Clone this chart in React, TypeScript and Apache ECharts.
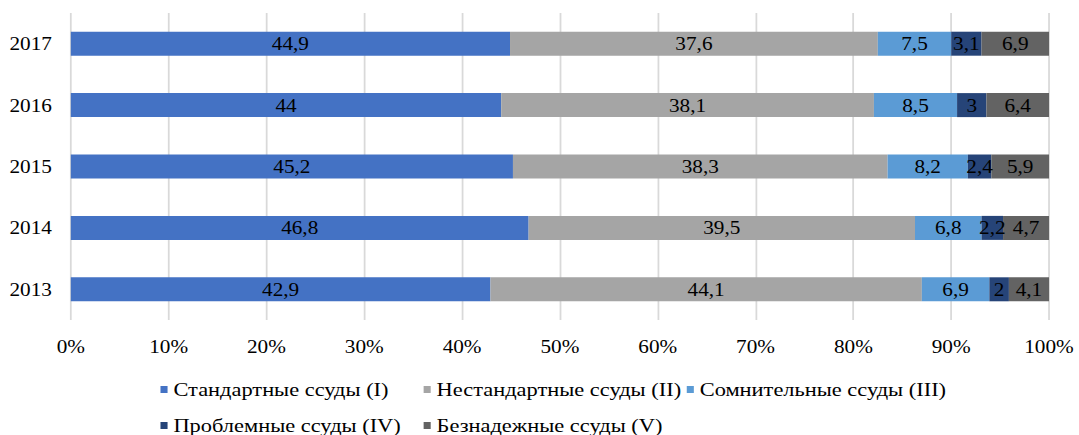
import React, { useEffect, useRef } from "react";
import * as echarts from "echarts";

// Loan portfolio structure by quality category, % of total
const years = ["2013", "2014", "2015", "2016", "2017"];
const standard = [42.9, 46.8, 45.2, 44, 44.9];
const nonStandard = [44.1, 39.5, 38.3, 38.1, 37.6];
const doubtful = [6.9, 6.8, 8.2, 8.5, 7.5];
const problem = [2, 2.2, 2.4, 3, 3.1];
const hopeless = [4.1, 4.7, 5.9, 6.4, 6.9];
const xTicks = [0, 10, 20, 30, 40, 50, 60, 70, 80, 90, 100];

const seriesNames = [
  "Стандартные ссуды (I)",
  "Нестандартные ссуды (II)",
  "Сомнительные ссуды (III)",
  "Проблемные ссуды (IV)",
  "Безнадежные ссуды (V)",
];
const seriesData = [standard, nonStandard, doubtful, problem, hopeless];
const colors = ["#4472C4", "#A5A5A5", "#5B9BD5", "#264478", "#636363"];

const FONT = "'Liberation Serif', 'Times New Roman', serif";

// The chart is drawn on a narrower canvas and widened horizontally
const STRETCH = 1.18;
const CHART_W = 914;
const CHART_H = 435;

// legend slots: [left, top]
const legendSlots: [number, number][] = [
  [136, 380],
  [359, 380],
  [582, 380],
  [136, 416],
  [359, 416],
];

export default function App() {
  const ref = useRef<HTMLDivElement>(null);

  useEffect(() => {
    if (!ref.current) return;
    const chart = echarts.init(ref.current, null, { renderer: "svg" });
    chart.setOption({
      animation: false,
      color: colors,
      textStyle: { fontFamily: FONT },
      grid: { left: 60, right: 25, top: 13, bottom: 115, containLabel: false },
      xAxis: {
        type: "value",
        min: xTicks[0],
        max: xTicks[xTicks.length - 1],
        interval: 10,
        axisLine: { show: false },
        axisTick: { show: false },
        splitLine: { show: true, lineStyle: { color: "#D9D9D9", width: 1.5 } },
        axisLabel: {
          formatter: "{value}%",
          color: "#000",
          fontSize: 18,
          fontFamily: FONT,
          margin: 18,
        },
      },
      yAxis: {
        type: "category",
        data: years,
        axisLine: { show: false },
        axisTick: { show: false },
        axisLabel: { color: "#000", fontSize: 18, fontFamily: FONT, margin: 16 },
      },
      legend: seriesNames.map((name, i) => ({
        data: [name],
        left: legendSlots[i][0],
        top: legendSlots[i][1],
        itemWidth: 6,
        itemHeight: 7,
        itemGap: 4,
        icon: "rect",
        padding: 0,
        textStyle: {
          color: "#000",
          fontSize: 19,
          fontFamily: FONT,
          padding: [4, 0, 0, 0],
        },
      })),
      series: seriesNames.map((name, i) => ({
        name,
        type: "bar",
        stack: "total",
        barWidth: 24,
        data: seriesData[i],
        itemStyle: { color: colors[i] },
        label: {
          show: true,
          position: "inside",
          color: "#000",
          fontSize: 18,
          fontFamily: FONT,
          formatter: (p: any) => String(p.value).replace(".", ","),
        },
      })),
    });
    return () => chart.dispose();
  }, []);

  return (
    <div
      ref={ref}
      style={{
        position: "absolute",
        left: 0,
        top: 0,
        width: CHART_W,
        height: CHART_H,
        transform: `scaleX(${STRETCH})`,
        transformOrigin: "0 0",
      }}
    />
  );
}
